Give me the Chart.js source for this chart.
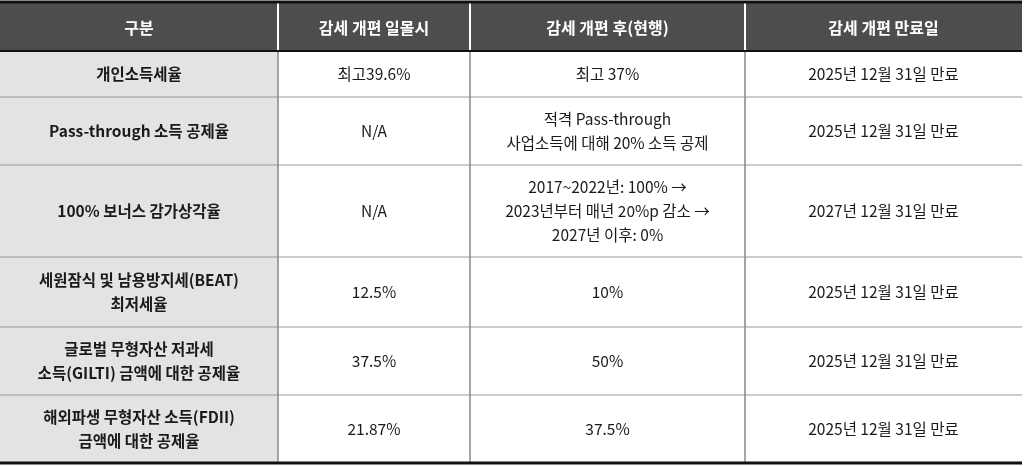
<!DOCTYPE html>
<html><head><meta charset="utf-8">
<script src="https://cdn.jsdelivr.net/npm/chart.js@4"></script>
<style>html,body{margin:0;padding:0;background:#fff}#w{width:1024px;height:466px}</style>
</head><body><div id="w"><canvas id="c"></canvas></div>
<script>
const headers = ["구분","감세 개편 일몰시","감세 개편 후(현행)","감세 개편 만료일"];
const categories = [["개인소득세율"],["Pass-through 소득 공제율"],["100% 보너스 감가상각율"],["세원잠식 및 남용방지세(BEAT)","최저세율"],["글로벌 무형자산 저과세","소득(GILTI) 금액에 대한 공제율"],["해외파생 무형자산 소득(FDII)","금액에 대한 공제율"]];
const beforeVals = [["최고39.6%"],["N/A"],["N/A"],["12.5%"],["37.5%"],["21.87%"]];
const currentVals = [["최고 37%"],["적격 Pass-through","사업소득에 대해 20% 소득 공제"],["2017~2022년: 100% →","2023년부터 매년 20%p 감소 →","2027년 이후: 0%"],["10%"],["50%"],["37.5%"]];
const expiry = [["2025년 12월 31일 만료"],["2025년 12월 31일 만료"],["2027년 12월 31일 만료"],["2025년 12월 31일 만료"],["2025년 12월 31일 만료"],["2025년 12월 31일 만료"]];
const colEdges = [0,278,470,745,1022];
const rowEdges = [2,51,97,165,257,327,395,463];
const FONT = '"Noto Sans CJK KR","Noto Sans",sans-serif';
const tablePlugin = {
  id:'table',
  afterDraw(chart){
    const ctx=chart.ctx, xs=chart.scales.x, ys=chart.scales.y;
    const X=v=>xs.getPixelForValue(v), Y=v=>ys.getPixelForValue(v);
    const cols=[categories,beforeVals,currentVals,expiry];
    ctx.save();
    // header bg
    ctx.fillStyle='#4d4d4d';
    ctx.fillRect(X(colEdges[0]),Y(rowEdges[0]),X(colEdges[4])-X(colEdges[0]),Y(rowEdges[1])-Y(rowEdges[0]));
    ctx.fillStyle='#e3e3e3';
    ctx.fillRect(X(colEdges[0]),Y(rowEdges[1]),X(colEdges[1])-X(colEdges[0]),Y(rowEdges[7])-Y(rowEdges[1]));
    // horizontal lines
    ctx.strokeStyle='#999';ctx.lineWidth=1.2;
    for(let r=2;r<7;r++){ctx.beginPath();ctx.moveTo(X(colEdges[0]),Y(rowEdges[r]));ctx.lineTo(X(colEdges[4]),Y(rowEdges[r]));ctx.stroke();}
    // vertical lines
    for(let c=1;c<4;c++){
      ctx.strokeStyle='#fff';ctx.lineWidth=2;ctx.beginPath();ctx.moveTo(X(colEdges[c]),Y(rowEdges[0]));ctx.lineTo(X(colEdges[c]),Y(rowEdges[1]));ctx.stroke();
      ctx.strokeStyle='#888';ctx.lineWidth=1.5;ctx.beginPath();ctx.moveTo(X(colEdges[c]),Y(rowEdges[1]));ctx.lineTo(X(colEdges[c]),Y(rowEdges[7]));ctx.stroke();
    }
    ctx.strokeStyle='#111';ctx.lineWidth=3;
    [0,7].forEach(r=>{ctx.beginPath();ctx.moveTo(X(colEdges[0]),Y(rowEdges[r]));ctx.lineTo(X(colEdges[4]),Y(rowEdges[r]));ctx.stroke();});
    ctx.lineWidth=2;ctx.beginPath();ctx.moveTo(X(colEdges[0]),Y(rowEdges[1]));ctx.lineTo(X(colEdges[4]),Y(rowEdges[1]));ctx.stroke();
    ctx.textAlign='center';ctx.textBaseline='middle';
    headers.forEach((h,c)=>{ctx.fillStyle='#fff';ctx.font='bold 16px '+FONT;
      ctx.fillText(h,(X(colEdges[c])+X(colEdges[c+1]))/2,(Y(rowEdges[0])+Y(rowEdges[1]))/2+1);});
    cols.forEach((col,c)=>{
      col.forEach((lines,r)=>{
        ctx.fillStyle='#1a1a1a';ctx.font=(c===0?'bold ':'')+'15.5px '+FONT;
        const cx=(X(colEdges[c])+X(colEdges[c+1]))/2, cy=(Y(rowEdges[r+1])+Y(rowEdges[r+2]))/2;
        const lh=24;
        lines.forEach((t,i)=>ctx.fillText(t,cx,cy+(i-(lines.length-1)/2)*lh));
      });
    });
    ctx.restore();
  }
};
new Chart(document.getElementById('c'),{
  type:'scatter',
  data:{datasets:[{data:[],pointRadius:0}]},
  options:{responsive:true,maintainAspectRatio:false,animation:false,
    layout:{padding:0},
    plugins:{legend:{display:false},tooltip:{enabled:false}},
    scales:{x:{type:'linear',min:0,max:1024,display:false},y:{type:'linear',min:0,max:466,reverse:true,display:false}}},
  plugins:[tablePlugin]
});
</script></body></html>
